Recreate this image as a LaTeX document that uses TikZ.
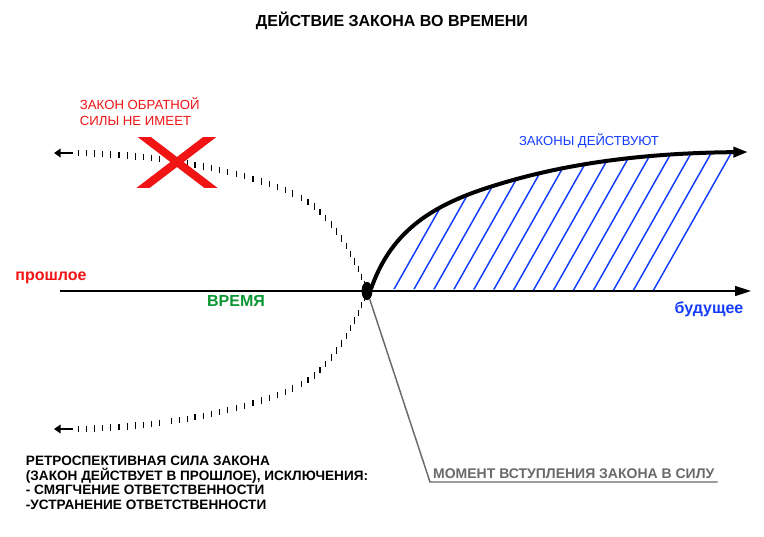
\documentclass[tikz,border=0pt]{standalone}
\usepackage{fontspec}
\setmainfont{Liberation Sans}
\usetikzlibrary{arrows.meta,shapes.geometric}

\definecolor{lawred}{RGB}{240,20,20}
\definecolor{lawblue}{RGB}{20,60,255}
\definecolor{lawgreen}{RGB}{10,150,50}
\definecolor{lawgray}{RGB}{105,105,105}

\tikzset{
	tick mark/.style={fill=black,inner sep=0pt,outer sep=0pt,minimum width=0.85pt,minimum height=4.8pt},
	small tip/.style={line width=2.2pt,-{Triangle[length=5pt,width=6.5pt]}},
	hatch line/.style={draw=lawblue,line width=1.1pt},
	every picture/.style={line width=0.75pt}}

\begin{document}
\begin{tikzpicture}[x=0.75pt,y=0.75pt,yscale=-1,xscale=1]
	\useasboundingbox (0,0) rectangle (764,536);

	% Text Node
	\node[font=\fontsize{12}{14}\selectfont\bfseries] (title) at (392,21) {ДЕЙСТВИЕ ЗАКОНА ВО ВРЕМЕНИ};

	%Coordinates
	\coordinate (past) at (60,291);
	\coordinate (future) at (751,291);
	\coordinate (oldtop) at (73,153);
	\coordinate (oldtopend) at (54,153);
	\coordinate (oldbot) at (73,429);
	\coordinate (oldbotend) at (54,429);
	\coordinate (lawend) at (748,152);

	%Shape: Ellipse
	\node[ellipse,fill=black,inner sep=0pt,minimum width=8pt,minimum height=13.5pt] (dot) at (367,291) {};

	%Curve Lines (ticked, no force in the past)
	\path (dot.center) .. controls (357,259) and (330,212) .. (300,197) foreach \t in {0.07,0.14,...,1} {node[tick mark,pos=\t] {}};
	\path (300,197) .. controls (260,177) and (207,166) .. (167,160) foreach \t in {0.06,0.12,...,1} {node[tick mark,pos=\t] {}};
	\path (167,160) .. controls (137,156) and (103,153) .. (oldtop) foreach \t in {0.085,0.17,...,1} {node[tick mark,pos=\t] {}};
	\draw[small tip] (oldtop) -- (oldtopend);
	%Curve Lines (ticked, retrospective force)
	\path (dot.center) .. controls (357,323) and (330,370) .. (300,385) foreach \t in {0.07,0.14,...,1} {node[tick mark,pos=\t] {}};
	\path (300,385) .. controls (260,405) and (207,416) .. (167,422) foreach \t in {0.06,0.12,...,1} {node[tick mark,pos=\t] {}};
	\path (167,422) .. controls (137,426) and (103,429) .. (oldbot) foreach \t in {0.085,0.17,...,1} {node[tick mark,pos=\t] {}};
	\draw[small tip] (oldbot) -- (oldbotend);

	%Hatching
	\begin{scope}
		\clip (371,289) .. controls (388,240) and (420,212) .. (475,192) .. controls (560,162) and (650,153) .. (lawend) -- (748,291) -- cycle;
		\foreach \i in {0,...,13}
			\draw[hatch line] (393+20*\i,291) -- ++(85,-150);
	\end{scope}

	%Straight Lines (time axis)
	\draw[line width=1.1pt,-{Triangle[length=12pt,width=7.5pt]}] (past) -- (future);

	%Curve Lines (law in force)
	\draw[line width=3pt,-{Triangle[length=11pt,width=7.5pt]}] (371,289) .. controls (388,240) and (420,212) .. (475,192) .. controls (560,162) and (650,153) .. (lawend);

	%Redraw dot on top
	\fill (dot.center) ellipse (4pt and 6.75pt);

	%Shape: Cross
	\begin{scope}
		\clip (120,137) rectangle (235,187);
		\draw[lawred,line width=6pt] (139,133) -- (215,191) (215,133) -- (139,191);
	\end{scope}

	% Text Node
	\node[text=lawred,align=left,anchor=west,font=\fontsize{9.9}{12}\selectfont] (nolaw) at (75,112) {ЗАКОН ОБРАТНОЙ\\СИЛЫ НЕ ИМЕЕТ};
	% Text Node
	\node[text=lawblue,font=\fontsize{9.8}{11}\selectfont] (inforce) at (589,141) {ЗАКОНЫ ДЕЙСТВУЮТ};
	% Text Node
	\node[text=lawred,font=\fontsize{12}{14}\selectfont\bfseries] (pastlabel) at (51,278) {прошлое};
	% Text Node
	\node[text=lawgreen,font=\fontsize{12}{14}\selectfont\bfseries] (timelabel) at (236,301) {ВРЕМЯ};
	% Text Node
	\node[text=lawblue,font=\fontsize{12}{14}\selectfont\bfseries] (futurelabel) at (709,309) {будущее};
	% Text Node
	\node[align=left,anchor=north west,font=\fontsize{10.2}{11}\selectfont\bfseries] (retro) at (21,451) {РЕТРОСПЕКТИВНАЯ СИЛА ЗАКОНА\\(ЗАКОН ДЕЙСТВУЕТ В ПРОШЛОЕ), ИСКЛЮЧЕНИЯ:\\- СМЯГЧЕНИЕ ОТВЕТСТВЕННОСТИ\\-УСТРАНЕНИЕ ОТВЕТСТВЕННОСТИ};
	% Text Node
	\node[text=lawgray,anchor=south west,inner xsep=2pt,inner ysep=2.5pt,font=\fontsize{10.5}{12}\selectfont\bfseries] (moment) at (430,482) {МОМЕНТ ВСТУПЛЕНИЯ ЗАКОНА В СИЛУ};

	%Straight Lines (leader)
	\draw[lawgray,line width=1.1pt] (dot) -- (moment.south west) -- (moment.south east);

\end{tikzpicture}
\end{document}
